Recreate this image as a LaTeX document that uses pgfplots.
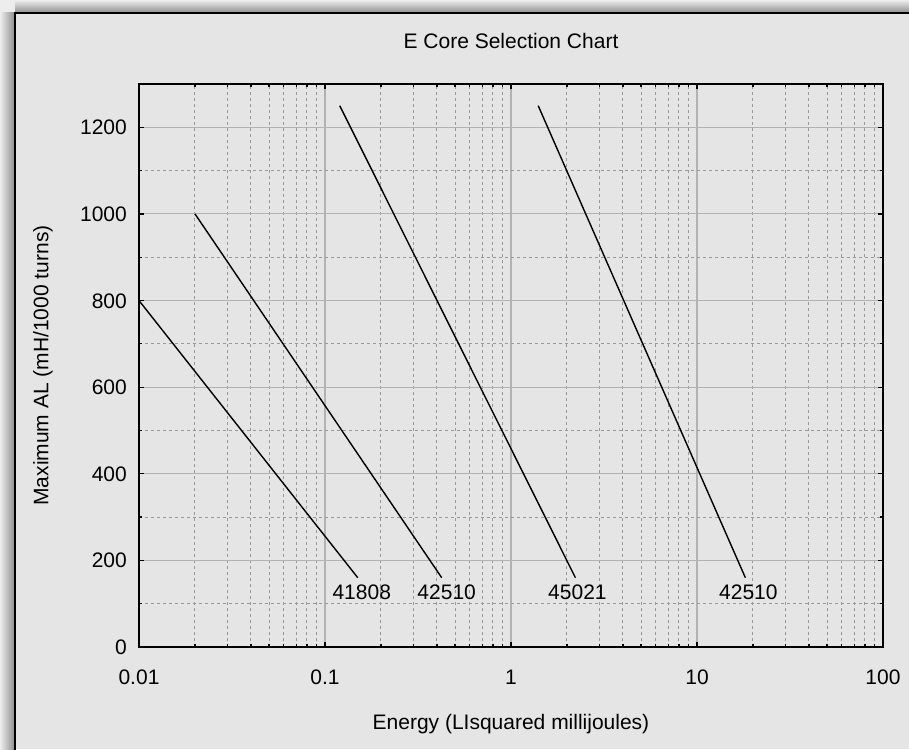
\documentclass[border=0pt]{standalone}
\usepackage{pgfplots}
\pgfplotsset{compat=1.18}
\usepackage{fontspec}
\setmainfont{Liberation Sans}
\newcommand{\bigf}{\fontsize{21}{25}\selectfont}
\begin{document}
\begin{tikzpicture}[x=1pt,y=1pt]
\useasboundingbox (0,0) rectangle (909,749);
% background and shadow
\fill[white!93!black] (0,0) rectangle (909,749);
\shade[left color=white!93!black, right color=black!45] (0,0) rectangle (15,736);
\shade[bottom color=black!45, top color=white!93!black] (15,736) rectangle (909,749);
\fill[black!10] (15,0) rectangle (909,736);
\draw[line width=1.5pt] (15,-5) -- (15,736) -- (915,736);
\begin{axis}[
  at={(139pt,102pt)}, anchor=south west,
  scale only axis, width=744pt, height=563pt,
  xmode=log, xmin=0.01, xmax=100, ymin=0, ymax=1300,
  xtick={0.01,0.1,1,10,100},
  xticklabels={0.01,0.1,1,10,100},
  minor xtick={0.02,0.03,0.04,0.05,0.06,0.07,0.08,0.09,0.2,0.3,0.4,0.5,0.6,0.7,0.8,0.9,2,3,4,5,6,7,8,9,20,30,40,50,60,70,80,90},
  ytick={0,200,400,600,800,1000,1200},
  minor ytick={100,300,500,700,900,1100},
  /pgf/number format/assume math mode=true,
  /pgf/number format/1000 sep={},
  scaled y ticks=false,
  grid=both,
  major grid style={gray!60, line width=1.1pt},
  minor grid style={black!40, line width=1pt, dash pattern=on 3pt off 3pt},
  axis line style={line width=1.4pt},
  tick align=inside,
  major tick length=5pt, minor tick length=3.5pt,
  tick style={black, line width=1.2pt},
  xtick pos=both, ytick pos=both,
  xticklabel style={font=\bigf, anchor=base, inner sep=0pt, yshift=-37pt},
  yticklabel style={font=\bigf, anchor=base east, inner sep=0pt, xshift=-12pt, yshift=-7.5pt},
  title={E Core Selection Chart},
  every axis title/.style={at={(axis description cs:0.5,1.0634)}, anchor=base, font=\bigf},
  xlabel={Energy (LIsquared millijoules)},
  every axis x label/.style={at={(axis description cs:0.5,-0.1474)}, anchor=base, font=\bigf},
  ylabel={Maximum AL (mH/1000 turns)},
  every axis y label/.style={at={(axis description cs:-0.1219,0.5)}, rotate=90, anchor=base, font=\bigf},
  clip=false,
]
\addplot[black, line width=1.4pt] coordinates {(0.01,800) (0.15,160)}
  node[pos=1, anchor=base, font=\bigf, inner sep=0pt, yshift=-22pt, xshift=4pt] {41808};
\addplot[black, line width=1.4pt] coordinates {(0.02,1000) (0.424,160)}
  node[pos=1, anchor=base, font=\bigf, inner sep=0pt, yshift=-22pt, xshift=5pt] {42510};
\addplot[black, line width=1.4pt] coordinates {(0.12,1250) (2.22,160)}
  node[pos=1, anchor=base, font=\bigf, inner sep=0pt, yshift=-22pt, xshift=2pt] {45021};
\addplot[black, line width=1.4pt] coordinates {(1.4,1250) (18.2,160)}
  node[pos=1, anchor=base, font=\bigf, inner sep=0pt, yshift=-22pt, xshift=3pt] {42510};
\end{axis}
\end{tikzpicture}
\end{document}
